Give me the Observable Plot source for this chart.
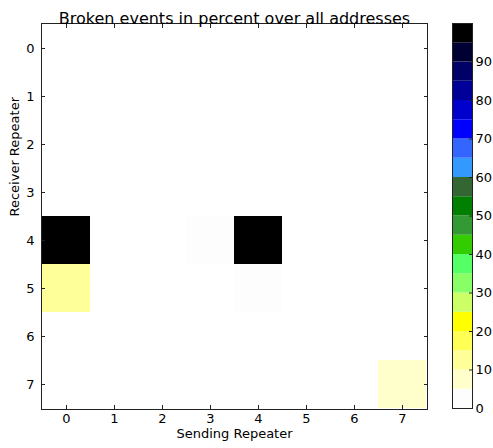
<!DOCTYPE html>
<html>
<head>
<meta charset="utf-8">
<script src="https://cdn.jsdelivr.net/npm/d3@7"></script>
<script src="https://cdn.jsdelivr.net/npm/@observablehq/plot@0.6"></script>
<style>
  html, body { margin: 0; padding: 0; background: #fff; }
  #wrap { position: relative; width: 493px; height: 448px; overflow: hidden; }
  #main { position: absolute; left: 0; top: 0; }
  #bar { position: absolute; left: 440px; top: 0; }
</style>
</head>
<body>
<div id="wrap"><div id="main"></div><div id="bar"></div></div>
<script>
// ---- data ----
const titleText = "Broken events in percent over all addresses";
const xLabel = "Sending Repeater";
const yLabel = "Receiver Repeater";
const sending = [0, 1, 2, 3, 4, 5, 6, 7];
const receiver = [0, 1, 2, 3, 4, 5, 6, 7];
// rows = receiver, columns = sending; null = no value (masked)
const broken = [
  [null, null, null, null, null, null, null, null],
  [null, null, null, null, null, null, null, null],
  [null, null, null, null, null, null, null, null],
  [null, null, null, null, null, null, null, null],
  [97,   null, null, 0.5,  97,   null, null, null],
  [12,   null, null, null, 0.5,  null, null, null],
  [null, null, null, null, null, null, null, null],
  [null, null, null, null, null, null, null, 7]
];
const levels = [0,5,10,15,20,25,30,35,40,45,50,55,60,65,70,75,80,85,90,95,100];
const bandColors = [
  "#fdfdfd","#ffffcc","#ffff99","#ffff55","#ffff00","#ccff66","#88ff66","#55ff66",
  "#33cc00","#339933","#007f00","#336633","#3399ff","#3366ff","#0000ff","#0000cc",
  "#000099","#000066","#000033","#000000"
];
const barTicks = [0,10,20,30,40,50,60,70,80,90];

// ---- build ----
const cells = [];
receiver.forEach((r, i) => sending.forEach((s, j) => {
  const v = broken[i][j];
  if (v != null) cells.push({s, r, v});
}));
const bands = levels.slice(0, -1).map((lo, i) => ({lo, hi: levels[i + 1]}));
const colorScale = {type: "threshold", domain: levels.slice(1, -1), range: bandColors};
const font = {fontFamily: "'DejaVu Sans', sans-serif", fontSize: "13px", color: "#000", background: "transparent"};

const main = Plot.plot({
  width: 440, height: 448,
  marginLeft: 41, marginRight: 13, marginTop: 23, marginBottom: 39,
  style: font,
  x: {type: "band", domain: sending, padding: 0, label: null},
  y: {type: "band", domain: receiver, padding: 0, label: null},
  color: colorScale,
  marks: [
    Plot.cell(cells, {x: "s", y: "r", fill: "v", inset: 0}),
    Plot.frame({stroke: "#222"}),
    Plot.axisX({anchor: "bottom", tickSize: 0, tickPadding: 4, label: null, fontSize: 13}),
    Plot.axisX({anchor: "bottom", tickSize: -4, tickFormat: () => "", label: null, stroke: "#222"}),
    Plot.axisX({anchor: "top", tickSize: -4, tickFormat: () => "", label: null, stroke: "#222"}),
    Plot.axisY({anchor: "left", tickSize: 0, tickPadding: 7, label: null, fontSize: 13}),
    Plot.axisY({anchor: "left", tickSize: -4, tickFormat: () => "", label: null, stroke: "#222"}),
    Plot.axisY({anchor: "right", tickSize: -4, tickFormat: () => "", label: null, stroke: "#222"}),
    Plot.text([titleText], {text: d => d, frameAnchor: "top", dy: -11, fontSize: 16, fill: "#000"}),
    Plot.text([xLabel], {text: d => d, frameAnchor: "bottom", dy: 28, fontSize: 13, fill: "#000"}),
    Plot.text([yLabel], {text: d => d, frameAnchor: "left", dx: -27, rotate: -90, fontSize: 13, fill: "#000"})
  ]
});
document.getElementById("main").appendChild(main);

const bar = Plot.plot({
  width: 53, height: 448,
  marginLeft: 12, marginRight: 21, marginTop: 23, marginBottom: 40,
  style: font,
  x: {axis: null, domain: [0, 1]},
  y: {domain: [0, 100], label: null},
  color: colorScale,
  marks: [
    Plot.rect(bands, {x1: 0, x2: 1, y1: "lo", y2: "hi", fill: "lo"}),
    Plot.frame({stroke: "#222"}),
    Plot.axisY(barTicks, {anchor: "right", tickSize: 0, tickPadding: 3, label: null, fontSize: 13}),
    Plot.axisY(barTicks, {anchor: "right", tickSize: -4, tickFormat: () => "", label: null, stroke: "#222"})
  ]
});
document.getElementById("bar").appendChild(bar);
</script>
</body>
</html>
